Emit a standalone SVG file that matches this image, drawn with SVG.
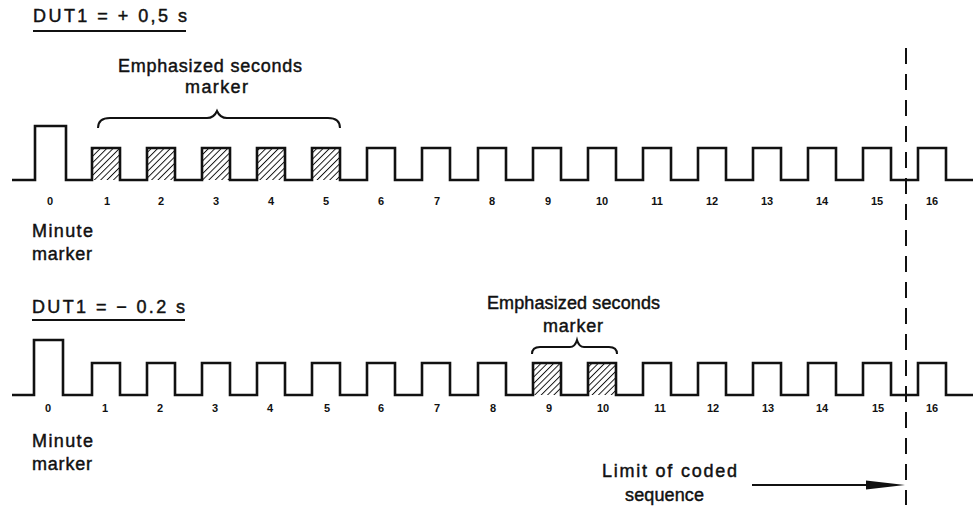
<svg xmlns="http://www.w3.org/2000/svg" width="977" height="509" viewBox="0 0 977 509">
<style>
.w{fill:none;stroke:#111;stroke-width:2.6;stroke-linejoin:miter}
.t{font-family:"Liberation Sans",Arial,sans-serif;font-size:18px;fill:#111;stroke:#111;stroke-width:0.45}
.n{font-family:"Liberation Sans",Arial,sans-serif;font-size:11px;font-weight:bold;fill:#111;text-anchor:middle}
.br{fill:none;stroke:#111;stroke-width:2}
.u{stroke:#111;stroke-width:1.8}
</style>
<defs>
<pattern id="hatch" patternUnits="userSpaceOnUse" width="4.5" height="4.5" patternTransform="rotate(45)">
<line x1="0" y1="0" x2="0" y2="4.5" stroke="#111" stroke-width="1.9"/>
</pattern>
</defs>
<rect width="977" height="509" fill="#fff"/>

<g id="top-title">
<text class="t" x="33" y="22" font-size="19" textLength="154" lengthAdjust="spacing">DUT1 = + 0,5 s</text>
<line class="u" x1="33" y1="31" x2="186" y2="31"/>
</g>

<g id="top-emph-label">
<text class="t" x="118" y="72" textLength="184" lengthAdjust="spacing">Emphasized seconds</text>
<text class="t" x="185" y="93" textLength="63" lengthAdjust="spacing">marker</text>
<path class="br" d="M98,128 Q98,118 110,118 L207,118 Q214,118 217,111 Q220,118 227,118 L328,118 Q340,118 340,128"/>
</g>

<g id="top-hatch">
<rect x="92" y="148" width="28" height="32" fill="url(#hatch)"/>
<rect x="147" y="148" width="28" height="32" fill="url(#hatch)"/>
<rect x="202" y="148" width="28" height="32" fill="url(#hatch)"/>
<rect x="257" y="148" width="28" height="32" fill="url(#hatch)"/>
<rect x="312" y="148" width="28" height="32" fill="url(#hatch)"/>
</g>

<g id="top-wave">
<path class="w" d="M12,180 H35 V126 H66 V180 H92 V148 H120 V180 H147 V148 H175 V180 H202 V148 H230 V180 H257 V148 H285 V180 H312 V148 H340 V180 H367 V148 H395 V180 H422 V148 H450 V180 H478 V148 H506 V180 H533 V148 H561 V180 H588 V148 H616 V180 H643 V148 H671 V180 H698 V148 H726 V180 H753 V148 H781 V180 H808 V148 H836 V180 H863 V148 H891 V180 H918 V148 H946 V180 H973"/>
</g>

<g id="top-numbers">
<text class="n" x="50" y="205">0</text>
<text class="n" x="107" y="205">1</text>
<text class="n" x="161" y="205">2</text>
<text class="n" x="216" y="205">3</text>
<text class="n" x="271" y="205">4</text>
<text class="n" x="326" y="205">5</text>
<text class="n" x="381" y="205">6</text>
<text class="n" x="437" y="205">7</text>
<text class="n" x="492" y="205">8</text>
<text class="n" x="548" y="205">9</text>
<text class="n" x="602" y="205">10</text>
<text class="n" x="657" y="205">11</text>
<text class="n" x="712" y="205">12</text>
<text class="n" x="767" y="205">13</text>
<text class="n" x="822" y="205">14</text>
<text class="n" x="877" y="205">15</text>
<text class="n" x="932" y="205">16</text>
</g>

<g id="top-minute">
<text class="t" x="32" y="237" textLength="61" lengthAdjust="spacing">Minute</text>
<text class="t" x="32" y="260" textLength="60" lengthAdjust="spacing">marker</text>
</g>

<g id="bottom-title">
<text class="t" x="32" y="313" font-size="19" textLength="153" lengthAdjust="spacing">DUT1 = − 0.2 s</text>
<line class="u" x1="32" y1="320" x2="185" y2="320"/>
</g>

<g id="bottom-emph-label">
<text class="t" x="487" y="309" textLength="173" lengthAdjust="spacing">Emphasized seconds</text>
<text class="t" x="543" y="332" textLength="60" lengthAdjust="spacing">marker</text>
<path class="br" d="M532,354 Q532,347 540,347 L570,347 Q575,347 577,340 Q579,347 584,347 L609,347 Q617,347 617,354"/>
</g>

<g id="bottom-hatch">
<rect x="533" y="363" width="28" height="32" fill="url(#hatch)"/>
<rect x="588" y="363" width="28" height="32" fill="url(#hatch)"/>
</g>

<g id="bottom-wave">
<path class="w" d="M12,395 H34 V340 H63 V395 H92 V363 H120 V395 H147 V363 H175 V395 H202 V363 H230 V395 H257 V363 H285 V395 H312 V363 H340 V395 H367 V363 H395 V395 H422 V363 H450 V395 H478 V363 H506 V395 H533 V363 H561 V395 H588 V363 H616 V395 H643 V363 H671 V395 H698 V363 H726 V395 H753 V363 H781 V395 H808 V363 H836 V395 H863 V363 H891 V395 H918 V363 H946 V395 H973"/>
</g>

<g id="bottom-numbers">
<text class="n" x="48" y="412">0</text>
<text class="n" x="105" y="412">1</text>
<text class="n" x="160" y="412">2</text>
<text class="n" x="215" y="412">3</text>
<text class="n" x="270" y="412">4</text>
<text class="n" x="327" y="412">5</text>
<text class="n" x="381" y="412">6</text>
<text class="n" x="437" y="412">7</text>
<text class="n" x="493" y="412">8</text>
<text class="n" x="549" y="412">9</text>
<text class="n" x="603" y="412">10</text>
<text class="n" x="660" y="412">11</text>
<text class="n" x="713" y="412">12</text>
<text class="n" x="768" y="412">13</text>
<text class="n" x="822" y="412">14</text>
<text class="n" x="878" y="412">15</text>
<text class="n" x="932" y="412">16</text>
</g>

<g id="bottom-minute">
<text class="t" x="32" y="447" textLength="61" lengthAdjust="spacing">Minute</text>
<text class="t" x="32" y="470" textLength="60" lengthAdjust="spacing">marker</text>
</g>

<g id="limit-label">
<text class="t" x="602" y="477" font-size="16" textLength="135" lengthAdjust="spacing">Limit of coded</text>
<text class="t" x="625" y="501" font-size="16" textLength="79" lengthAdjust="spacing">sequence</text>
</g>

<g id="connectors">
<line x1="906" y1="48" x2="906" y2="505" stroke="#111" stroke-width="2" stroke-dasharray="16 10"/>
<line x1="752" y1="485" x2="870" y2="485" stroke="#111" stroke-width="2"/>
<polygon points="866,480.5 905,485 866,489.5" fill="#111"/>
</g>
</svg>
